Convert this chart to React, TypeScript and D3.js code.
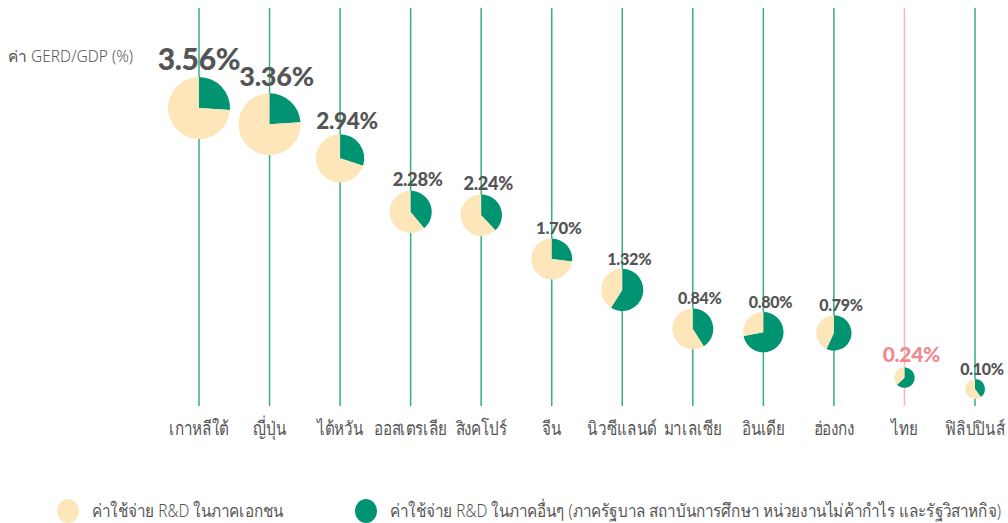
import React from 'react';
import * as d3 from 'd3';

// Countries, GERD/GDP (%), share of non-private R&D (%), relative bubble weight
const countries = ['เกาหลีใต้', 'ญี่ปุ่น', 'ไต้หวัน', 'ออสเตรเลีย', 'สิงคโปร์', 'จีน', 'นิวซีแลนด์', 'มาเลเซีย', 'อินเดีย', 'ฮ่องกง', 'ไทย', 'ฟิลิปปินส์'];
const gerd = [3.56, 3.36, 2.94, 2.28, 2.24, 1.7, 1.32, 0.84, 0.8, 0.79, 0.24, 0.1];
const otherShare = [26, 24, 30, 39, 38, 27, 59, 41, 72, 57, 63, 40];
const pieWeight = [1, 1, 0.78, 0.68, 0.67, 0.66, 0.68, 0.66, 0.65, 0.57, 0.33, 0.32];
const highlight = 'ไทย';

const legendLabels = ['ค่าใช้จ่าย R&D ในภาคเอกชน', 'ค่าใช้จ่าย R&D ในภาคอื่นๆ (ภาครัฐบาล สถาบันการศึกษา หน่วยงานไม่ค้ากำไร และรัฐวิสาหกิจ)'];
const axisTitle = 'ค่า GERD/GDP (%)';

const W = 1008;
const H = 523;
const CREAM = '#fde6b9';
const GREEN = '#009473';
const TEXT = '#555555';
const thaiFont = '"Noto Sans", "DejaVu Sans", sans-serif';
const numFont = 'Lato, "Noto Sans", sans-serif';

const x = d3.scalePoint<string>().domain(countries).range([199, 975]);
const y = d3.scaleLinear().domain([0.1, 3.56]).range([389, 108]);
const r = d3.scaleLinear().domain([0, 1]).range([0, 31]);
const fontSize = d3.scalePow().exponent(4).domain([0, 3.56]).range([16, 30]);
const pie = d3.pie<number>().sort(null).value(d => d);
const arc = d3.arc<d3.PieArcDatum<number>>().innerRadius(0);

const App: React.FC = () => {
  return (
    <svg width={W} height={H} style={{ position: 'absolute', left: 0, top: 0, background: '#fff' }}>
      <text x={8} y={62} fontFamily={thaiFont} fontSize={15.5} fontWeight={300} fill={TEXT}>{axisTitle}</text>

      {countries.map(c => {
        const cx = x(c)!;
        return (
          <line key={'l' + c} x1={cx} x2={cx} y1={8} y2={406}
            stroke={c === highlight ? '#f5b8bd' : '#35ad8a'} strokeWidth={1.5} />
        );
      })}

      {countries.map((c, i) => {
        const cx = x(c)!;
        const cy = y(gerd[i]);
        const rad = r(pieWeight[i]);
        const slices = pie([otherShare[i], 100 - otherShare[i]]);
        const isHi = c === highlight;
        const fs = isHi ? 21 : fontSize(gerd[i]);
        // first label sits centred, the rest are nudged right so the big ones don't collide
        const dx = i === 0 ? 0 : 7;
        return (
          <g key={'p' + c}>
            <g transform={`translate(${cx},${cy})`}>
              {slices.map((s, j) => (
                <path key={j} d={arc.outerRadius(rad)(s)!} fill={j === 0 ? GREEN : CREAM} />
              ))}
            </g>
            <text x={cx + dx} y={cy - rad - fs * 0.25} textAnchor="middle"
              fontFamily={numFont} fontWeight={900} fontSize={fs} letterSpacing={-0.3}
              fill={isHi ? '#f08a90' : TEXT}>
              {d3.format('.2f')(gerd[i])}%
            </text>
            <text transform={`translate(${cx},435) scale(0.8,1)`} textAnchor="middle"
              fontFamily={thaiFont} fontWeight={300} fontSize={19} fill={TEXT}>{c}</text>
          </g>
        );
      })}

      {legendLabels.map((t, i) => {
        const lx = i === 0 ? 68 : 366;
        return (
          <g key={'lg' + i}>
            <ellipse cx={lx} cy={511} rx={11} ry={12} fill={i === 0 ? CREAM : GREEN} />
            <text transform={`translate(${lx + 24},517) scale(0.85,1)`} fontFamily={thaiFont}
              fontWeight={300} fontSize={18} fill={TEXT}>{t}</text>
          </g>
        );
      })}
    </svg>
  );
};

export default App;
